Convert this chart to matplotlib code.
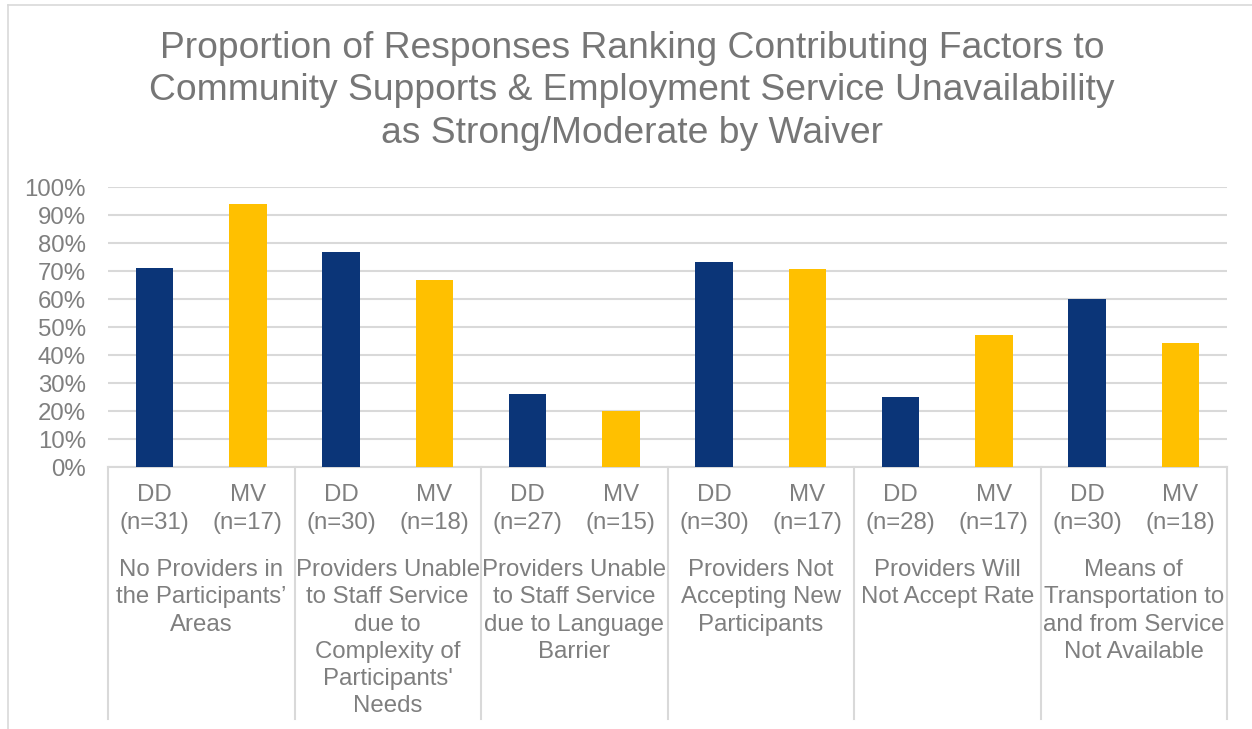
import matplotlib
matplotlib.use("Agg")
import matplotlib.pyplot as plt
import matplotlib.transforms as mtransforms
from matplotlib.lines import Line2D

plt.rcParams['font.family'] = ['Liberation Sans', 'DejaVu Sans']

categories = [
    "No Providers in\nthe Participants’\nAreas",
    "Providers Unable\nto Staff Service\ndue to\nComplexity of\nParticipants'\nNeeds",
    "Providers Unable\nto Staff Service\ndue to Language\nBarrier",
    "Providers Not\nAccepting New\nParticipants",
    "Providers Will\nNot Accept Rate",
    "Means of\nTransportation to\nand from Service\nNot Available",
]
waivers = ["DD", "MV"]
dd_n = [31, 30, 27, 30, 28, 30]
mv_n = [17, 18, 15, 17, 17, 18]
dd_vals = [0.710, 0.767, 0.259, 0.733, 0.250, 0.600]
mv_vals = [0.941, 0.667, 0.200, 0.706, 0.471, 0.444]
yticks = [0.0, 0.1, 0.2, 0.3, 0.4, 0.5, 0.6, 0.7, 0.8, 0.9, 1.0]

DD_COLOR = "#0B3578"
MV_COLOR = "#FFC000"
TEXT = "#7F7F7F"
GRID = "#D9D9D9"
FS = 17.3

W, H = 1252, 729
fig = plt.figure(figsize=(W / 100, H / 100), dpi=100)
ax = fig.add_axes([108 / W, (H - 467) / H, (1227 - 108) / W, 280 / H])

n_cat = len(categories)
dd_x = [2 * i for i in range(n_cat)]
mv_x = [2 * i + 1 for i in range(n_cat)]
ax.bar(dd_x, dd_vals, width=0.4, color=DD_COLOR, zorder=3)
ax.bar(mv_x, mv_vals, width=0.4, color=MV_COLOR, zorder=3)

ax.set_xlim(-0.5, 2 * n_cat - 0.5)
ax.set_ylim(0, 1.0)
ax.set_yticks(yticks)
ax.set_yticklabels([f"{int(round(t * 100))}%" for t in yticks], fontsize=FS, color=TEXT)
ax.tick_params(axis='y', length=0, pad=16)
ax.set_xticks([])
ax.yaxis.grid(True, color=GRID, linewidth=1.5, zorder=0)
for s in ['top', 'right', 'left']:
    ax.spines[s].set_visible(False)
ax.spines['bottom'].set_color(GRID)
ax.spines['bottom'].set_linewidth(1.5)

trans = mtransforms.blended_transform_factory(ax.transData, ax.transAxes)
# separators of the multi-level category axis
for k in range(n_cat + 1):
    ax.add_line(Line2D([2 * k - 0.5, 2 * k - 0.5], [0, -0.9], transform=trans,
                       color=GRID, linewidth=1.5, clip_on=False))

for i in range(n_cat):
    for j, (lab, n) in enumerate([(waivers[0], dd_n[i]), (waivers[1], mv_n[i])]):
        x = 2 * i + j
        ax.text(x, -0.1, lab, transform=trans, ha='center', va='center', fontsize=FS, color=TEXT)
        ax.text(x, -0.2, f"(n={n})", transform=trans, ha='center', va='center', fontsize=FS, color=TEXT)
    ax.text(2 * i + 0.5, -0.329, categories[i], transform=trans, ha='center', va='top',
            fontsize=FS, color=TEXT, linespacing=1.31)

fig.text(632 / W, 1 - 91 / H,
         "Proportion of Responses Ranking Contributing Factors to\n"
         "Community Supports & Employment Service Unavailability\n"
         "as Strong/Moderate by Waiver",
         ha='center', va='center', fontsize=26.8, color="#767676", linespacing=1.28)

# chart frame (top and left edges visible)
fig.add_artist(Line2D([8 / W, 1.0], [1 - 5 / H, 1 - 5 / H], transform=fig.transFigure, color=GRID, linewidth=1.2))
fig.add_artist(Line2D([8 / W, 8 / W], [0, 1 - 5 / H], transform=fig.transFigure, color=GRID, linewidth=1.2))

fig.savefig("out.png", dpi=100, facecolor='white')
